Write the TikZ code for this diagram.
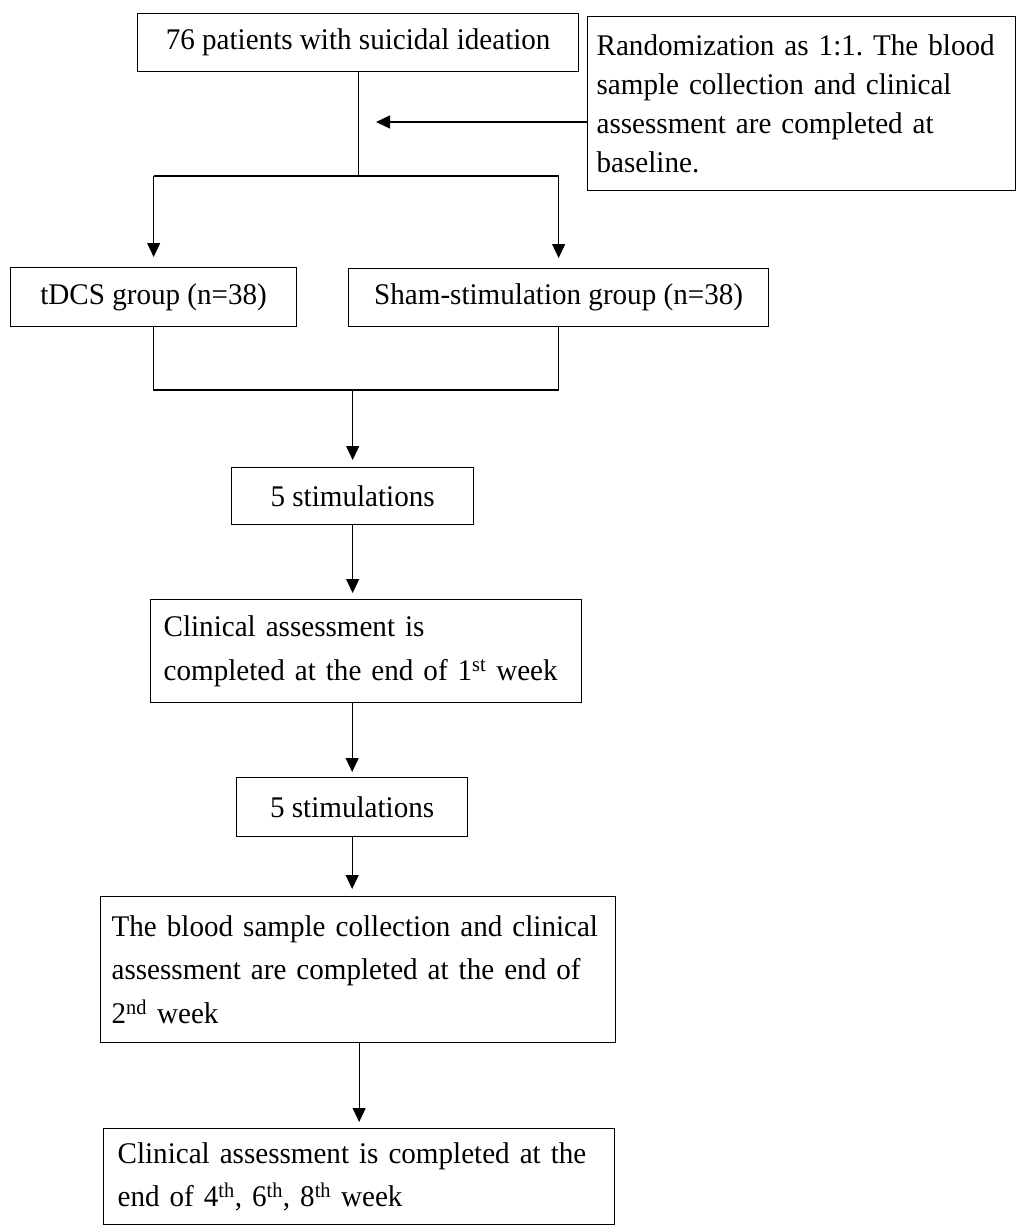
\documentclass[tikz,border=0pt]{standalone}
\usepackage{fontspec}
\setmainfont{Liberation Serif}[FakeStretch=0.97]
\usetikzlibrary{arrows.meta}
\frenchspacing

\begin{document}
\begin{tikzpicture}[x=1pt, y=-1pt, line width=1.2pt, >={Triangle[length=14pt,width=13pt]},
  box/.style={draw, line width=1.3pt, anchor=north west, inner sep=0pt, align=center,
    font=\fontsize{30}{43.5}\selectfont},
  textbox/.style={box, align=left, inner ysep=0pt}]
  \useasboundingbox (0,0) rectangle (1017,1227);

  % --- Baseline ---
  \node[box, minimum width=441pt, minimum height=58pt] (pat) at (137,13) {76 patients with suicidal ideation};
  \node[textbox, text width=410pt, inner xsep=9pt, minimum height=174pt,
    font=\fontsize{30}{38.8}\selectfont] (rand) at (587,16)
    {Randomization as 1:1. The blood\\sample collection and clinical\\assessment are completed at\\baseline.};

  % --- Groups ---
  \node[box, minimum width=286pt, minimum height=59pt] (tdcs) at (10,267) {tDCS group (n=38)};
  \node[box, minimum width=420pt, minimum height=58pt] (sham) at (348,268) {Sham-stimulation group (n=38)};

  % --- Week 1 ---
  \node[box, minimum width=242pt, minimum height=57pt] (stim1) at (231,467) {5 stimulations};
  \node[textbox, text width=405pt, inner xsep=13pt, minimum height=103pt] (clin1) at (150,599)
    {Clinical assessment is\\completed at the end of 1\textsuperscript{st} week};

  % --- Week 2 ---
  \node[box, minimum width=231pt, minimum height=59pt] (stim2) at (236,777) {5 stimulations};
  \node[textbox, text width=493pt, inner xsep=11pt, minimum height=146pt] (blood) at (100,896)
    {The blood sample collection and clinical\\assessment are completed at the end of\\2\textsuperscript{nd} week};

  % --- Follow-up ---
  \node[textbox, text width=483pt, inner xsep=14pt, minimum height=96pt] (last) at (103,1128)
    {Clinical assessment is completed at the\\end of 4\textsuperscript{th}, 6\textsuperscript{th}, 8\textsuperscript{th} week};

  % Randomization split
  \coordinate (split) at (pat.south |- 0,176);
  \coordinate (randin) at (376,122);
  \draw (pat.south) -- (split);
  \draw[->] (rand.west |- randin) -- (randin);
  \draw (tdcs.north |- split) -- (sham.north |- split);
  \draw[->, shorten >=10pt] (tdcs.north |- split) -- (tdcs.north);
  \draw[->, shorten >=10pt] (sham.north |- split) -- (sham.north);

  % Groups merge
  \coordinate (merge) at (stim1.north |- 0,390);
  \draw (tdcs.south) -- (tdcs.south |- merge) -- (sham.south |- merge) -- (sham.south);
  \draw[->, shorten >=7pt] (merge) -- (stim1.north);

  % Time line
  \draw[->, shorten >=6pt] (stim1.south) -- (stim1.south |- clin1.north);
  \draw[->, shorten >=5pt] (stim2.north |- clin1.south) -- (stim2.north);
  \draw[->, shorten >=7pt] (stim2.south) -- (stim2.south |- blood.north);
  \draw[->, shorten >=6pt] (last.north |- blood.south) -- (last.north);

\end{tikzpicture}
\end{document}
